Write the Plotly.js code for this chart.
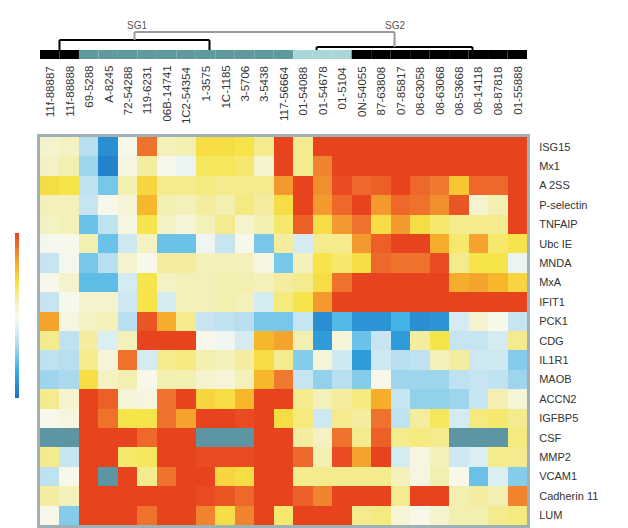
<!DOCTYPE html>
<html>
<head>
<meta charset="utf-8">
<script src="https://cdn.plot.ly/plotly-3.0.1.min.js"></script>
<style>html,body{margin:0;padding:0;background:#fff;}#chart{width:628px;height:528px;}</style>
</head>
<body>
<div id="chart"></div>
<script>
// ---- data ----
const samples = ["11f-88887","11f-88888","69-5288","A-8245","72-54288","119-6231","06B-14741","1C2-54354",
  "1-3575","1C-1185","3-5706","3-5438","117-56664","01-54088","01-54678","01-5104","0N-54055",
  "87-63808","07-85817","08-63058","08-63068","08-53668","08-14118","08-87818","01-55888"];
const genes = ["ISG15","Mx1","A 2SS","P-selectin","TNFAIP","Ubc IE","MNDA","MxA","IFIT1","PCK1",
  "CDG","IL1R1","MAOB","ACCN2","IGFBP5","CSF","MMP2","VCAM1","Cadherin 11","LUM"];
const groups = ["k","k","t","t","t","t","t","t","t","t","t","t","t","l","l","l",
  "k","k","k","k","k","k","k","k","k"];
const clusterNames = ["SG1","SG2"];

const r01 = [0.3,0.4,-1.0,-2.5,0.0,2.5,0.5,0.6,1.3,1.3,1.2,0.8,3, 0.8,3,3,3,3,3,3,3,3,3,3,3];
const r02 = [0.4,0.6,-1.2,-2.7,0.1,0.7,0.0,-0.3,1.1,1.1,1.0,0.3,3, 0.8,2.3,3,3,3,3,3,3,3,3,3,3];
const r03 = [1.3,1.2,-0.9,-1.5,0.6,1.4,0.8,0.8,0.9,0.8,0.8,0.8,2.1, 3,2.2,2.9,2.6,2.7,3,2.6,2.4,1.6,2.6,2.6,3];
const r04 = [0.5,0.5,-0.8,0.0,0.2,1.8,0.6,0.5,0.7,0.6,0.9,0.7,1.3, 3,2.1,2.6,3,2.1,2.6,2.5,2.2,2.8,0.3,0.6,3];
const r05 = [0.4,0.5,-1.6,-0.9,0.1,1.2,0.4,0.2,0.5,0.8,0.3,0.6,1.0, 2.7,1.3,2.1,2.5,1.3,2.1,1.3,1.0,0.8,0.8,0.8,3];
const r06 = [-0.1,0.0,0.6,-1.6,-0.7,0.4,-1.6,-1.6,-0.2,-0.8,0.0,-1.5,0.7, -0.6,0.8,0.8,2.1,2.7,3,3,1.9,1.0,2.0,1.0,1.2];
const r07 = [-0.8,-0.1,-1.5,-1.0,0.3,0.0,0.7,0.7,0.5,0.5,0.5,0.1,-1.5, 0.5,1.2,1.0,1.3,2.6,2.5,2.5,2.9,0.8,1.2,1.2,-0.3];
const r08 = [0.0,0.3,-1.7,-1.7,-0.6,1.2,0.4,0.5,0.5,0.6,0.6,0.5,0.7, 0.8,1.3,2.5,3,3,3,3,3,1.9,2.0,1.8,1.4];
const r09 = [-0.8,0.0,0.3,0.3,-0.7,1.2,-0.6,0.5,0.5,0.6,0.5,-0.6,0.9, 1.2,2.1,3,3,3,3,3,3,3,3,3,3];
const r10 = [2.0,0.1,0.4,0.5,-1.0,2.8,1.9,0.8,-0.8,-0.9,-1.0,-1.5,-1.5, -0.8,-2.5,-1.8,-2.4,-2.4,-1.9,-2.5,-2.4,-0.6,0.3,0.0,-0.8];
const r11 = [0.8,-0.9,0.7,-0.5,0.5,3,3,3,0.0,-0.2,-0.6,1.8,2.0, 0.6,-2.3,0.2,-1.6,-0.8,-2.3,0.7,1.2,-0.8,-0.8,-0.6,0.8];
const r12 = [-0.9,-1.0,0.8,0.2,2.5,-0.6,0.8,0.9,0.6,0.5,0.7,1.3,0.8, -1.4,0.2,-0.7,-2.3,-0.7,-1.0,-0.9,0.5,0.7,-0.7,-0.7,-1.4];
const r13 = [-1.2,-1.1,1.3,0.4,0.6,0.0,0.6,0.6,0.3,0.2,0.5,1.8,2.4, -0.8,-1.3,-1.0,-1.4,0.0,-1.2,-1.2,-1.2,-0.9,-0.8,-0.9,-1.2];
const r14 = [0.8,0.3,3,2.7,0.2,0.1,2.5,3,1.4,1.3,1.8,3,3, 0.8,0.5,0.7,0.9,1.9,-0.8,-1.3,-1.3,-1.2,-0.8,0.6,0.2];
const r15 = [0.0,0.1,3,2.5,1.2,1.2,2.5,2.0,3,3,2.9,3,1.3, 0.9,-0.7,0.8,0.7,2.5,-0.9,0.7,1.1,-0.6,0.9,1.0,0.8];
const r16 = [null,null,3,3,3,2.6,3,3,null,null,null,3,3, 0.7,0.4,2.5,0.8,2.7,0.8,0.9,0.8,null,null,null,0.9];
const r17 = [0.8,-0.8,3,3,1.0,1.1,3,3,2.9,2.9,2.9,3,3, 2.6,0.6,2.9,2.0,3,-0.6,0.1,0.5,-0.7,-0.5,0.8,0.8];
const r18 = [-0.9,0.0,3,null,3,0.8,2.5,3,3,1.4,1.3,3,3, 0.8,0.8,0.8,0.8,0.8,0.5,0.1,0.6,0.0,-1.6,-0.5,-1.4];
const r19 = [0.7,0.5,3,3,3,3,3,3,2.9,2.8,2.6,3,3, 2.7,2.3,3,3,3,0.8,3,3,0.6,0.7,0.6,2.3];
const r20 = [0.0,-1.4,3,3,3,2.5,3,3,2.3,1.3,2.3,3,1.0, 3,3,3,0.8,0.9,0.2,0.0,0.3,0.6,0.6,0.8,0.9];

const z = [r01,r02,r03,r04,r05,r06,r07,r08,r09,r10,r11,r12,r13,r14,r15,r16,r17,r18,r19,r20];

// ---- layout helpers ----
const H = 388, TOPPX = 137;
function yp(px){ return (TOPPX + H - px) / H; }

const colorscale = [
  [0.0,'#1c6fc2'],[0.17,'#38b0e3'],[0.33,'#b6deef'],[0.46,'#eef6f3'],[0.5,'#f7f7ea'],
  [0.6,'#f3efb0'],[0.7,'#f6e44a'],[0.8,'#f6b72b'],[0.9,'#ef7a2f'],[1.0,'#e8431f']
];

const groupColors = {k:'#000000', t:'#5f9a9c', l:'#a9d6d6'};

const shapes = [];
// group bar
groups.forEach((g,i)=>{
  shapes.push({type:'rect', xref:'x', yref:'paper', x0:i-0.5, x1:i+0.5,
    y0:yp(59), y1:yp(50), fillcolor:groupColors[g], line:{width:0}, layer:'above'});
});
// dendrogram
function seg(x0,y0,x1,y1,color){
  shapes.push({type:'line', xref:'x', yref:'paper', x0:x0, x1:x1, y0:yp(y0), y1:yp(y1),
    line:{color:color, width:2}});
}
seg(0.5,40,8.2,40,'#000'); seg(0.5,40,0.5,50,'#000'); seg(8.2,40,8.2,50,'#000');
seg(13.7,47,21.7,47,'#000'); seg(13.7,47,13.7,50,'#000'); seg(21.7,47,21.7,50,'#000');
seg(4.35,32,17.7,32,'#9a9a9a'); seg(4.35,32,4.35,40,'#9a9a9a'); seg(17.7,32,17.7,47,'#9a9a9a');
// frame
shapes.push({type:'rect', xref:'paper', yref:'paper', x0:-0.003, x1:1.003, y0:-0.004, y1:1.004,
  line:{color:'#9fb1b4', width:3}, fillcolor:'rgba(0,0,0,0)'});

const annotations = samples.map(s=>({
  x:s, xref:'x', y:yp(64), yref:'paper', text:s, showarrow:false, textangle:-90,
  xanchor:'center', yanchor:'top', font:{size:11.5, color:'#333', family:'Liberation Sans, Arial, sans-serif'}
}));
annotations.push({x:4.5, xref:'x', y:yp(18), yref:'paper', text:clusterNames[0], showarrow:false,
  font:{size:10,color:'#555',family:'Liberation Sans, Arial, sans-serif'}});
annotations.push({x:17.7, xref:'x', y:yp(18), yref:'paper', text:clusterNames[1], showarrow:false,
  font:{size:10,color:'#555',family:'Liberation Sans, Arial, sans-serif'}});

const trace = {
  type:'heatmap', z:z, x:samples, y:genes, zmin:-3, zmax:3, colorscale:colorscale,
  hoverongaps:false, xgap:0, ygap:0,
  colorbar:{x:-0.0513, xanchor:'left', xpad:0, ypad:0, thickness:4, len:165, lenmode:'pixels',
    y:yp(315), yanchor:'middle', outlinewidth:0, showticklabels:false, ticks:''}
};

const layout = {
  width:628, height:528,
  margin:{l:40, r:101, t:137, b:3, pad:0},
  paper_bgcolor:'#ffffff', plot_bgcolor:'#5e95a3',
  font:{family:'Liberation Sans, Arial, sans-serif'},
  xaxis:{type:'category', range:[-0.5,24.5], showticklabels:false, ticks:'', showgrid:false, zeroline:false, showline:false},
  yaxis:{type:'category', autorange:'reversed', side:'right', ticks:'outside', ticklen:9, tickcolor:'rgba(0,0,0,0)',
    tickfont:{size:11, color:'#333'}, showgrid:false, zeroline:false, showline:false},
  shapes:shapes, annotations:annotations, showlegend:false
};

Plotly.newPlot('chart',[trace],layout,{displayModeBar:false, staticPlot:true});
</script>
</body>
</html>
